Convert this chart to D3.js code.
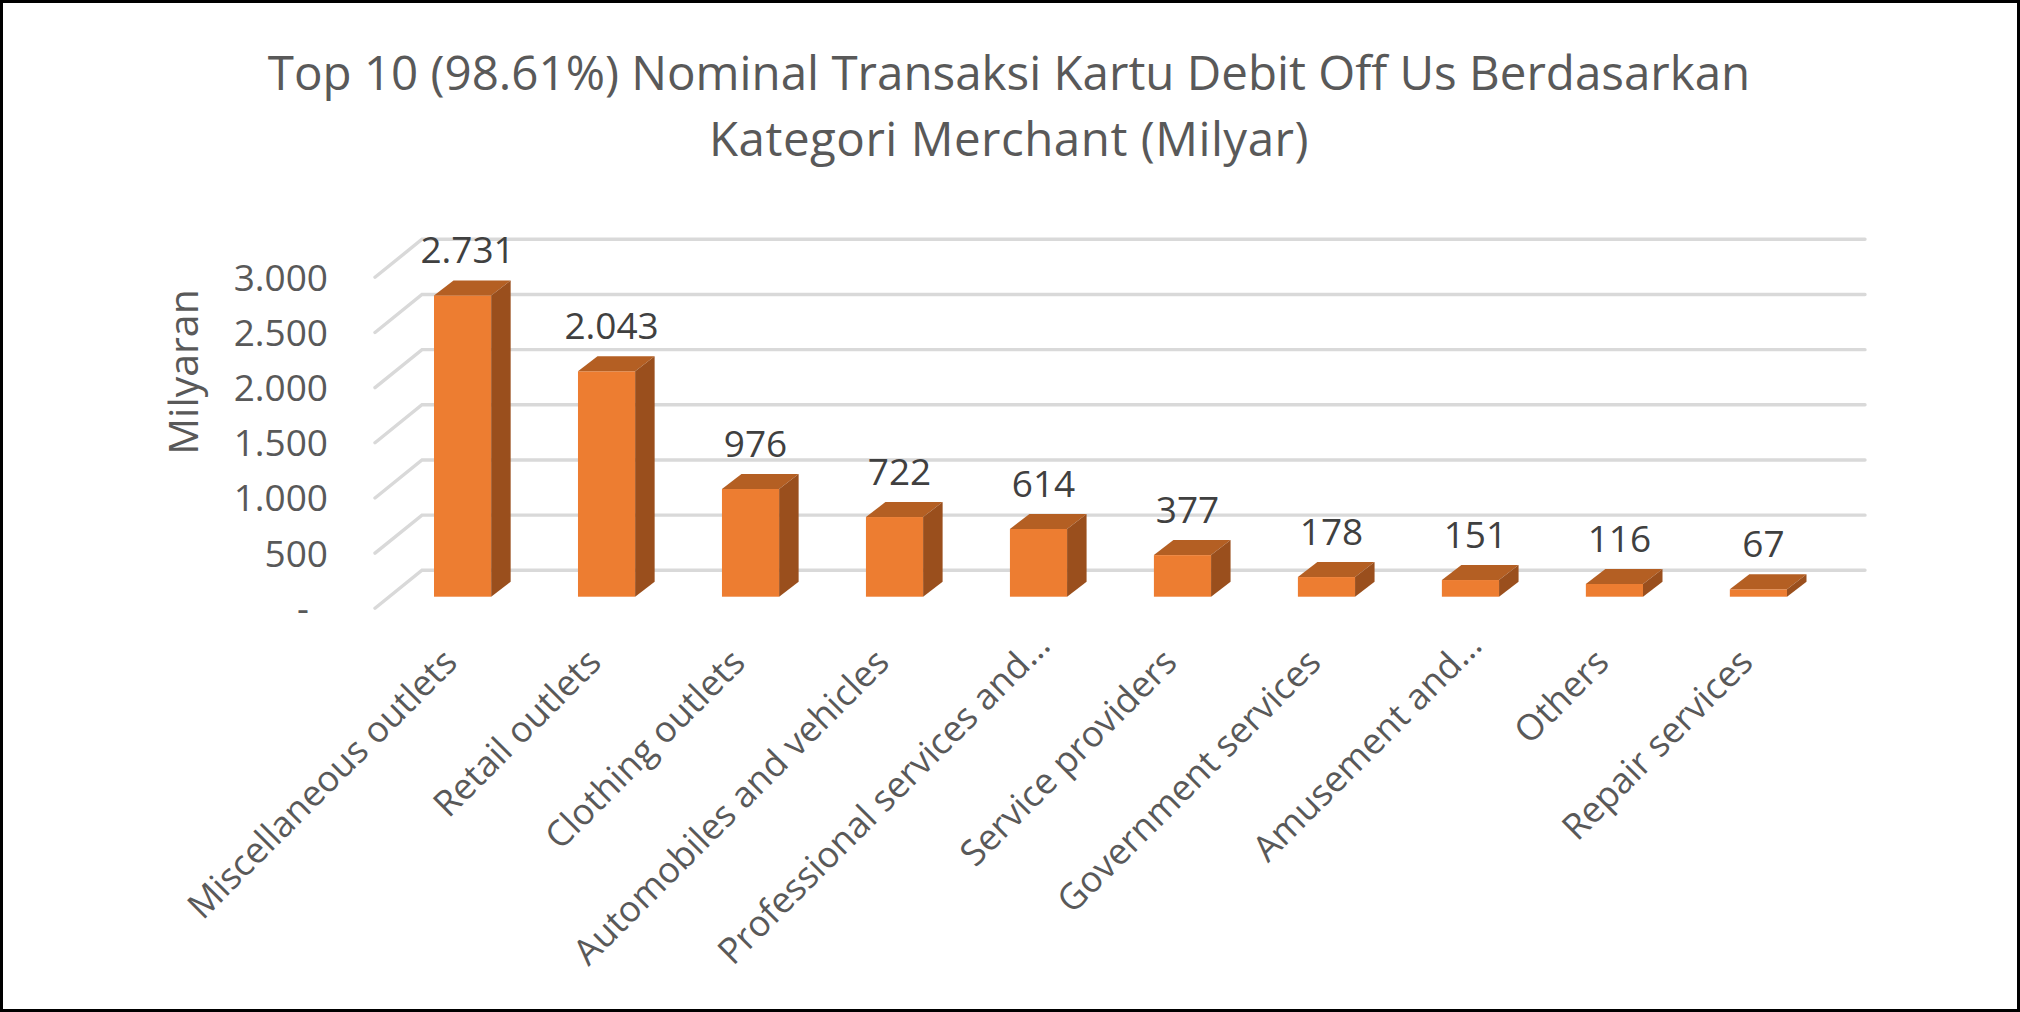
<!DOCTYPE html>
<html>
<head>
<meta charset="utf-8">
<script src="https://cdn.jsdelivr.net/npm/d3@7/dist/d3.min.js"></script>
<style>
  html, body { margin: 0; padding: 0; background: #fff; }
  svg { display: block; }
  text { font-family: "Open Sans", sans-serif; }
</style>
</head>
<body>
<svg width="2020" height="1012"></svg>
<script>
var titleLines = ["Top 10 (98.61%) Nominal Transaksi Kartu Debit Off Us Berdasarkan", "Kategori Merchant (Milyar)"];
var yTitle = "Milyaran";
var categories = ["Miscellaneous outlets", "Retail outlets", "Clothing outlets", "Automobiles and vehicles",
    "Professional services and…", "Service providers", "Government services", "Amusement and…", "Others", "Repair services"];
var values = [2731, 2043, 976, 722, 614, 377, 178, 151, 116, 67];
var valueLabels = ["2.731", "2.043", "976", "722", "614", "377", "178", "151", "116", "67"];
var yTicks = [0, 500, 1000, 1500, 2000, 2500, 3000];
var yTickLabels = ["-", "500", "1.000", "1.500", "2.000", "2.500", "3.000"];

var svg = d3.select("svg");

// border
svg.append("rect").attr("x", 1.5).attr("y", 1.5).attr("width", 2017).attr("height", 1009)
    .attr("fill", "#fff").attr("stroke", "#000").attr("stroke-width", 3);

// y is the back wall, wall offset is how far the floor comes forward
var y = d3.scaleLinear().domain([0, 3000]).range([570.3, 239.3]);
var x = d3.scaleBand().domain(categories).range([434, 1787]).paddingInner(0.603).paddingOuter(0);

var wallX = 47, wallY = 38;     // side wall
var barX = 19.5, barY = 15;     // bar depth
var floorY = 26.4;              // bar front base below back wall zero
var wallLeft = 422, wallRight = 1865;

// gridlines
var grid = svg.append("g").attr("fill", "none").attr("stroke", "#d9d9d9").attr("stroke-width", 3.4).attr("stroke-linecap", "round");
grid.selectAll("path").data(yTicks).enter().append("path")
    .attr("d", function (d) {
        return "M" + (wallLeft - wallX) + "," + (y(d) + wallY) + "L" + wallLeft + "," + y(d) + "H" + wallRight;
    });

// y axis
var yAxis = d3.axisLeft(y).tickValues(yTicks).tickSize(0).tickPadding(0)
    .tickFormat(function (d, i) { return yTickLabels[i]; });
var yg = svg.append("g").attr("transform", "translate(328," + wallY + ")").call(yAxis);
yg.select(".domain").remove();
yg.selectAll("text").attr("font-size", 37).attr("font-family", null).attr("fill", "#595959").attr("dy", 13);
yg.selectAll(".tick").filter(function (d) { return d === 0; }).select("text").attr("x", -19);

// y title
svg.append("text").attr("transform", "translate(198,372) rotate(-90)").attr("text-anchor", "middle")
    .attr("font-size", 41).attr("fill", "#595959").text(yTitle);

// bars
var bars = svg.append("g").selectAll("g").data(values).enter().append("g");
function barBase() { return y(0) + floorY; }
function barTop(d) { return barBase() - (y(0) - y(d)); }

// front
bars.append("rect")
    .attr("x", function (d, i) { return x(categories[i]); })
    .attr("y", function (d) { return barTop(d); })
    .attr("width", x.bandwidth())
    .attr("height", function (d) { return barBase() - barTop(d); })
    .attr("fill", "#ed7d31");
// top face
bars.append("path")
    .attr("d", function (d, i) {
        var l = x(categories[i]), t = barTop(d);
        return "M" + l + "," + t + "l" + barX + "," + (-barY) + "h" + x.bandwidth() + "l" + (-barX) + "," + barY + "Z";
    })
    .attr("fill", "#b45f23");
// side face
bars.append("path")
    .attr("d", function (d, i) {
        var r = x(categories[i]) + x.bandwidth(), t = barTop(d);
        return "M" + r + "," + t + "l" + barX + "," + (-barY) + "V" + (barBase() - barY) + "l" + (-barX) + "," + barY + "Z";
    })
    .attr("fill", "#9a4f1d");

// value labels
bars.append("text")
    .attr("x", function (d, i) { return x(categories[i]) + x.bandwidth() / 2 + 5; })
    .attr("y", function (d) { return barTop(d) - barY - 17; })
    .attr("text-anchor", "middle").attr("font-size", 37).attr("fill", "#404040")
    .text(function (d, i) { return valueLabels[i]; });

// x axis labels, the cut off ones run further up in the original
var xAxis = d3.axisBottom(x).tickSize(0).tickPadding(0);
var xg = svg.append("g").attr("transform", "translate(-12,656)").call(xAxis);
xg.select(".domain").remove();
xg.selectAll("text").attr("font-size", 36).attr("font-family", null).attr("fill", "#595959")
    .attr("text-anchor", "end").attr("y", 0).attr("dy", 0)
    .attr("transform", function (d) {
        var along = d.slice(-1) == "…" ? 24 : 0;
        return "rotate(-45) translate(" + along + ",12)";
    });

// title
svg.append("g").selectAll("text").data(titleLines).enter().append("text")
    .attr("x", 1009).attr("y", function (d, i) { return 90 + i * 66; })
    .attr("text-anchor", "middle").attr("font-size", 47.5).attr("fill", "#595959")
    .attr("letter-spacing", function (d, i) { return i ? 0.5 : 0; })
    .text(function (d) { return d; });
</script>
</body>
</html>
